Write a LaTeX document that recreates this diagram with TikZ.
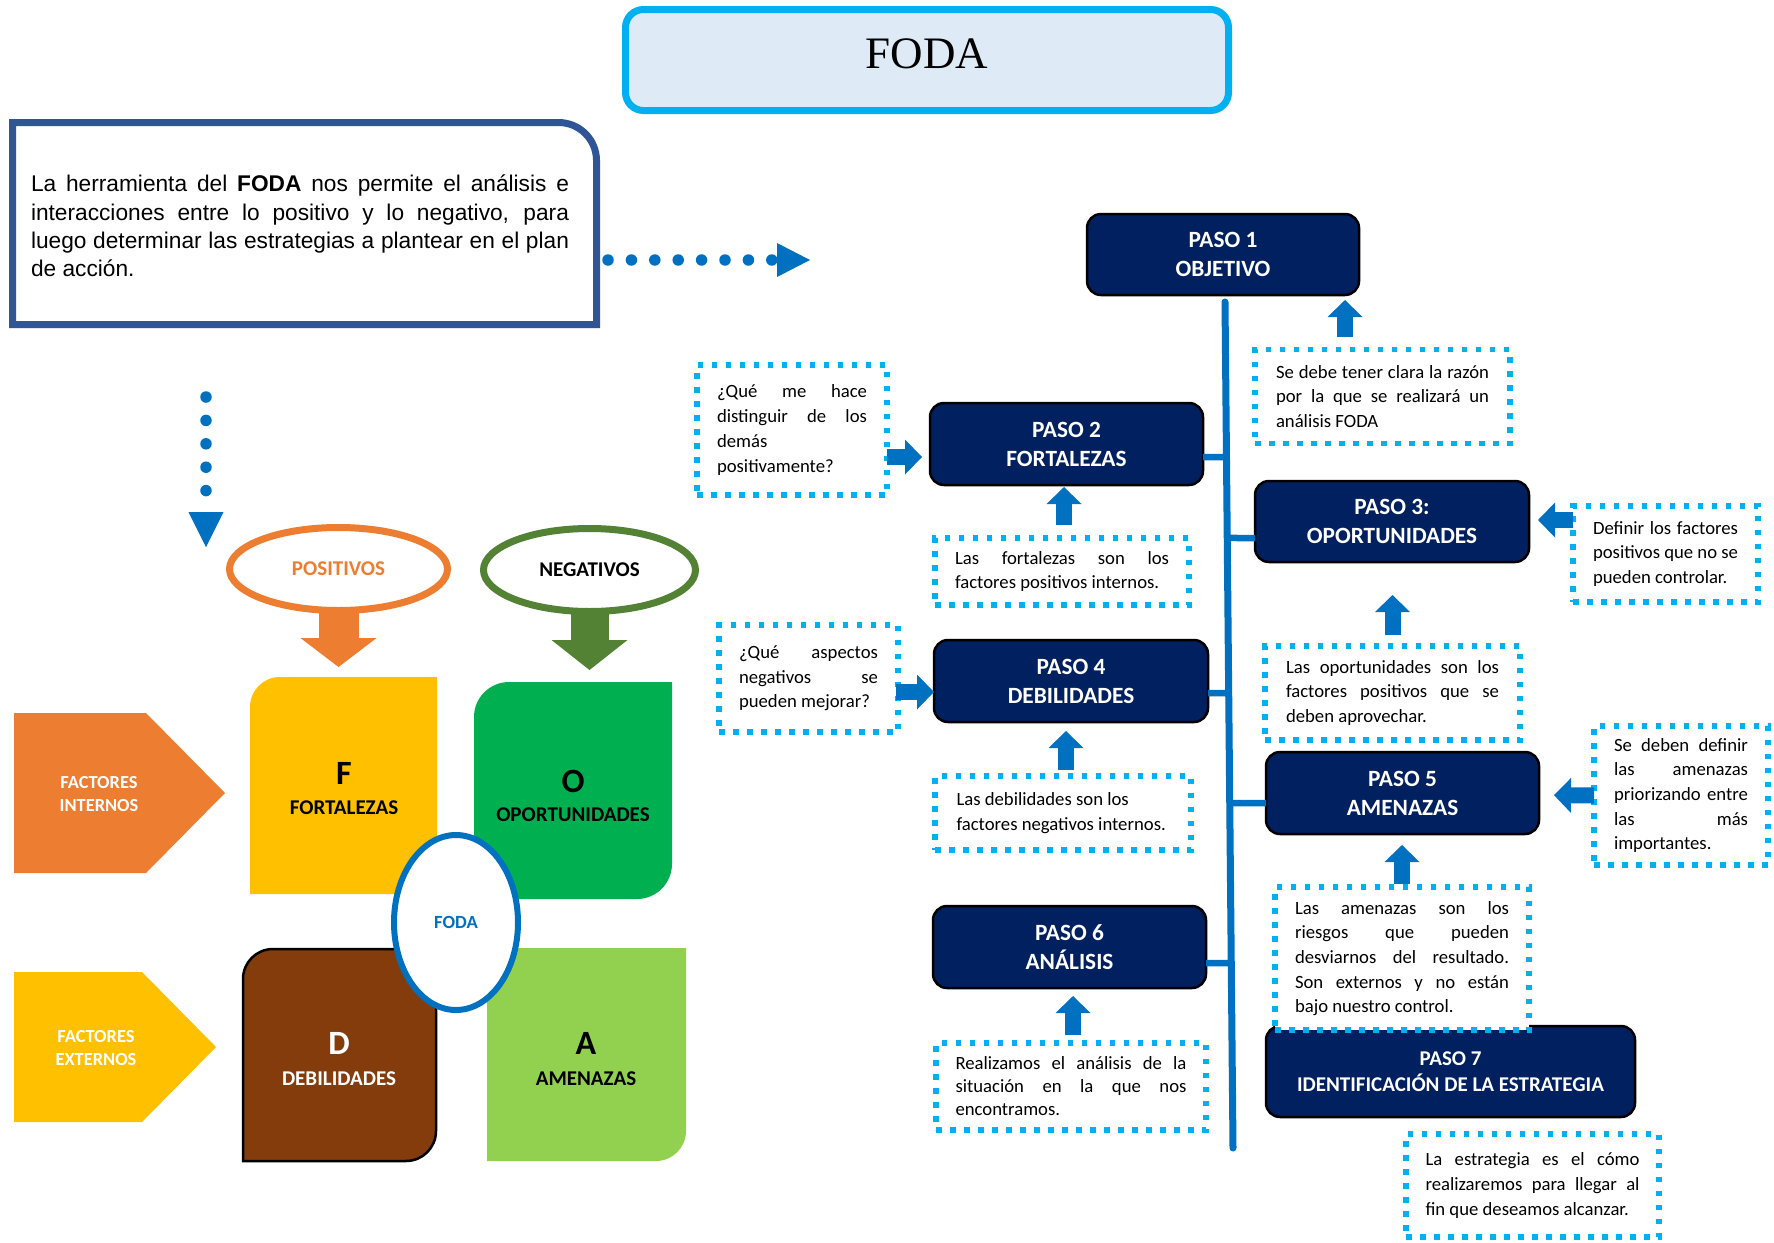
\documentclass[tikz,border=0pt]{standalone}
\usepackage{fontspec}
\setmainfont{Carlito}
\newfontfamily\arialf{Liberation Sans}
\newfontfamily\timesf{Liberation Serif}
\usetikzlibrary{arrows.meta,calc,shapes.geometric}
\definecolor{navy}{HTML}{002060}
\definecolor{blueA}{HTML}{0070C0}
\definecolor{cyanF}{HTML}{00B0F0}
\definecolor{orangeF}{HTML}{ED7D31}
\definecolor{yellowF}{HTML}{FFC000}
\definecolor{greenF}{HTML}{00B050}
\definecolor{lgreenF}{HTML}{92D050}
\definecolor{brownF}{HTML}{843C0C}
\definecolor{dgreenF}{HTML}{548235}
\definecolor{titlefill}{HTML}{DEEBF7}
\definecolor{tbborder}{HTML}{2F5597}
\tikzset{
  pasobox/.style={draw=black, line width=2.5pt, fill=navy, rounded corners=14pt, text=white,
    font=\bfseries\fontsize{23.3}{29}\selectfont, align=center, inner sep=0pt, outer sep=0pt},
  dbox/.style={draw=cyanF, line width=5.5pt, dash pattern=on 5.5pt off 8.5pt, fill=white,
    font=\fontsize{18.7}{24.7}\selectfont, align=justify, inner sep=0pt, outer sep=0pt},
  blk/.style={draw=blueA, line width=16pt, -{Triangle[width=35pt,length=17pt,line width=0pt]}},
  dotarrow/.style={blueA, line width=11.5pt, line cap=round, dash pattern=on 0pt off 23.4pt},
  spineline/.style={blueA, line width=7pt, line cap=round},
  conn/.style={blueA, line width=6.5pt},
  ghost/.style={inner sep=0pt, outer sep=0pt},
  qlabel/.style={font=\bfseries\fontsize{21}{25}\selectfont, inner sep=0pt},
  qletter/.style={font=\bfseries\fontsize{34}{38}\selectfont, inner sep=0pt},
  factor/.style={text=white, font=\bfseries\fontsize{18.4}{23}\selectfont, align=center, inner sep=0pt}
}
\hyphenpenalty=10000
\exhyphenpenalty=10000
\begin{document}
\begin{tikzpicture}[x=1pt,y=-1pt]
\useasboundingbox (0,0) rectangle (1774,1242);
\fill[white] (0,0) rectangle (1774,1242);

% ---------- title ----------
\node[draw=cyanF, line width=7pt, fill=titlefill, rounded corners=18pt, minimum width=603pt, minimum height=101pt, ghost] (title) at (927,60) {};
\node[font=\timesf\fontsize{45}{50}\selectfont, inner sep=0pt] (titletext) at (927,54) {FODA};

% ---------- left text box ----------
\node[ghost, minimum width=584pt, minimum height=202pt] (tb) at (304.5,223.5) {};
\draw[tbborder, line width=7pt] (12.5,324.5) -- (12.5,122.5) -- (558.5,122.5) .. controls (579.5,122.5) and (596.5,139.5) .. (596.5,160.5) -- (596.5,324.5) -- cycle;
\node[text width=538pt, align=justify, font=\arialf\fontsize{22.7}{28.4}\selectfont, inner sep=0pt] (tbtext) at (300,226)
{La herramienta del \textbf{FODA} nos permite el análisis e\linebreak interacciones entre lo positivo y lo negativo, para\linebreak luego determinar las estrategias a plantear en el plan\linebreak de acción.};

% dotted arrows
\coordinate (arrR) at (810,260);
\coordinate (arrD) at (206,547);
\draw[dotarrow, -{Triangle[width=34pt,length=33pt,line width=0pt]}] ([xshift=11.5pt,yshift=-36.5pt]tb.east) -- (arrR);
\draw[dotarrow, -{Triangle[width=35pt,length=35pt,line width=0pt]}] ([xshift=-98.5pt,yshift=-72.5pt]tb.south) -- (arrD);

% ---------- FODA matrix ----------
\node[ellipse, draw=orangeF, line width=7pt, fill=white, minimum width=218pt, minimum height=83pt, ghost, text=orangeF, font=\bfseries\fontsize{21}{25}\selectfont] (pos) at (338.5,569) {POSITIVOS};
\node[ellipse, draw=dgreenF, line width=7pt, fill=white, minimum width=212pt, minimum height=83pt, ghost, text=black, font=\bfseries\fontsize{21}{25}\selectfont] (neg) at (589.5,570) {NEGATIVOS};

\node[ghost, minimum width=187pt, minimum height=217pt] (F) at (343.5,785.5) {};
\node[ghost, minimum width=198pt, minimum height=217pt] (O) at (573,790.5) {};
\node[ghost, minimum width=193pt, minimum height=212pt] (D) at (339.5,1055) {};
\node[ghost, minimum width=199pt, minimum height=213pt] (A) at (586.5,1054.5) {};

\draw[orangeF, line width=40pt, -{Triangle[width=76pt,length=29pt,line width=0pt]}, shorten >=10pt] (pos.south) -- (pos.south |- F.north);
\draw[dgreenF, line width=38pt, -{Triangle[width=76pt,length=30pt,line width=0pt]}, shorten >=12pt] (neg.south) -- (neg.south |- O.north);

\fill[yellowF] (250,894) -- (250,707) .. controls (250,690.4) and (263.4,677) .. (280,677) -- (437,677) -- (437,894) -- cycle;
\fill[greenF] (474,899) -- (474,717) .. controls (474,697.7) and (489.7,682) .. (509,682) -- (672,682) -- (672,864) .. controls (672,883.3) and (656.3,899) .. (637,899) -- cycle;
\filldraw[fill=brownF, draw=black, line width=2.5pt] (243,1161) -- (243,979) .. controls (243,962.4) and (256.4,949) .. (273,949) -- (436,949) -- (436,1131) .. controls (436,1147.6) and (422.6,1161) .. (406,1161) -- cycle;
\fill[lgreenF] (487,948) -- (686,948) -- (686,1131) .. controls (686,1147.6) and (672.6,1161) .. (656,1161) -- (487,1161) -- cycle;

\node[qletter] (Fl) at (344,773) {F};
\node[qlabel] (Ft) at (344,808) {FORTALEZAS};
\node[qletter] (Ol) at (573,781) {O};
\node[qlabel] (Ot) at (573,815) {OPORTUNIDADES};
\node[qletter, text=white] (Dl) at (339,1043) {D};
\node[qlabel, text=white] (Dt) at (339,1079) {DEBILIDADES};
\node[qletter] (Al) at (586,1043) {A};
\node[qlabel] (At) at (586,1079) {AMENAZAS};

\node[ellipse, draw=blueA, line width=6pt, fill=white, minimum width=124pt, minimum height=175pt, ghost, text=blueA, font=\bfseries\fontsize{18.6}{22}\selectfont] (foda) at (456,922.5) {FODA};

% factor pentagons
\fill[orangeF] (14,713) -- (146,713) -- (225,793) -- (146,873) -- (14,873) -- cycle;
\node[factor] (fint) at (99,794) {FACTORES\\INTERNOS};
\fill[yellowF] (14,972) -- (142,972) -- (216,1047) -- (142,1122) -- (14,1122) -- cycle;
\node[factor] (fext) at (96,1048) {FACTORES\\EXTERNOS};

% ---------- steps ----------
\coordinate (st) at (1225,302);
\coordinate (sb) at (1233,1148);
\draw[spineline] (st) -- (sb);

\node[pasobox, minimum width=272pt, minimum height=81pt] (p1) at (1223,254.5) {PASO 1\\OBJETIVO};
\node[pasobox, minimum width=273pt, minimum height=82pt] (p2) at (1066.5,444) {PASO 2\\FORTALEZAS};
\node[pasobox, minimum width=274pt, minimum height=81pt] (p3) at (1392,521.5) {PASO 3:\\OPORTUNIDADES};
\node[pasobox, minimum width=274pt, minimum height=82pt] (p4) at (1071,681) {PASO 4\\DEBILIDADES};
\node[pasobox, minimum width=273pt, minimum height=82pt] (p5) at (1402.5,793) {PASO 5\\AMENAZAS};
\node[pasobox, minimum width=273pt, minimum height=82pt] (p6) at (1069.5,947) {PASO 6\\ANÁLISIS};
\node[pasobox, minimum width=369pt, minimum height=91pt, font=\bfseries\fontsize{21}{26}\selectfont] (p7) at (1450.5,1071.5) {PASO 7\\IDENTIFICACIÓN DE LA ESTRATEGIA};

\begin{scope}[on background layer/.style={}]
\draw[conn] ([yshift=-13pt]p2.east) -- ($(st)!{(457-302)/846}!(sb)$);
\draw[conn] ([yshift=-16.5pt]p3.west) -- ($(st)!{(538-302)/846}!(sb)$);
\draw[conn] ([yshift=-12pt]p4.east) -- ($(st)!{(693-302)/846}!(sb)$);
\draw[conn] ([yshift=-10pt]p5.west) -- ($(st)!{(803-302)/846}!(sb)$);
\draw[conn] ([yshift=-16pt]p6.east) -- ($(st)!{(963-302)/846}!(sb)$);
\end{scope}

% dotted boxes
\node[dbox, minimum width=255pt, minimum height=94pt, text width=213pt] (b1) at (1382.5,396.5)
{Se debe tener clara la razón\linebreak por la que se realizará un\linebreak análisis FODA};
\node[dbox, minimum width=190pt, minimum height=130pt, text width=150pt] (q2) at (792,430)
{¿Qué me hace\linebreak distinguir de los\linebreak demás\hfill\break positivamente?};
\node[dbox, minimum width=254pt, minimum height=67pt, text width=214pt] (f2) at (1062,571.5)
{Las fortalezas son los\linebreak factores positivos internos.};
\node[dbox, minimum width=185pt, minimum height=96pt, text width=145pt] (d3) at (1665.5,554)
{Definir los factores\linebreak positivos que no se\linebreak pueden controlar.};
\node[dbox, minimum width=255pt, minimum height=94pt, text width=213pt] (o3) at (1392.5,693)
{Las oportunidades son los\linebreak factores positivos que se\linebreak deben aprovechar.};
\node[dbox, minimum width=179pt, minimum height=107pt, text width=139pt] (q4) at (808.5,678.5)
{¿Qué aspectos\linebreak negativos se\linebreak pueden mejorar?};
\node[dbox, minimum width=256pt, minimum height=74pt, text width=213pt] (w4) at (1063,813)
{Las debilidades son los\hfill\break factores negativos internos.};
\node[dbox, minimum width=174pt, minimum height=139pt, text width=134pt] (s5) at (1681,795.5)
{Se deben definir\linebreak las amenazas\linebreak priorizando entre\linebreak las más\linebreak importantes.};
\node[dbox, minimum width=254pt, minimum height=143pt, text width=214pt] (a5) at (1402,958.5)
{Las amenazas son los\linebreak riesgos que pueden\linebreak desviarnos del resultado.\linebreak Son externos y no están\linebreak bajo nuestro control.};
\node[dbox, minimum width=270pt, minimum height=87pt, text width=231pt, font=\fontsize{18.7}{23}\selectfont] (r6) at (1071,1086.5)
{Realizamos el análisis de la\linebreak situación en la que nos\linebreak encontramos.};
\node[dbox, minimum width=253pt, minimum height=103pt, text width=214pt] (e7) at (1532.5,1185.5)
{La estrategia es el cómo\linebreak realizaremos para llegar al\linebreak fin que deseamos alcanzar.};

% block arrows
\draw[blk, shorten <=12.5pt, shorten >=5pt] ([xshift=-37.5pt]b1.north) -- ([xshift=-37.5pt]b1.north |- p1.south);
\draw[blk, shorten <=13pt, shorten >=2pt] ([xshift=2pt]f2.north) -- ([xshift=2pt]f2.north |- p2.south);
\draw[blk, shorten <=11pt, shorten >=33pt] (o3.north) -- (o3.north |- p3.south);
\draw[blk, shorten <=6pt, shorten >=9pt] ([xshift=3pt]w4.north) -- ([xshift=3pt]w4.north |- p4.south);
\draw[blk, shorten <=3pt, shorten >=11pt] (a5.north) -- (a5.north |- p5.south);
\draw[blk, shorten <=8pt, shorten >=8pt] ([xshift=2pt]r6.north) -- ([xshift=2pt]r6.north |- p6.south);

\draw[blk, shorten >=8pt] ([yshift=-27pt]q2.east) -- ([yshift=-13pt]p2.west);
\draw[blk, shorten <=-2pt] ([yshift=-13.5pt]q4.east) -- ([yshift=-11pt]p4.west);
\draw[blk, shorten >=9pt] ([yshift=34pt]d3.west) -- ([yshift=1.5pt]p3.east);
\draw[blk, shorten >=15pt] (s5.west) -- ([yshift=-2pt]p5.east);
\end{tikzpicture}
\end{document}
